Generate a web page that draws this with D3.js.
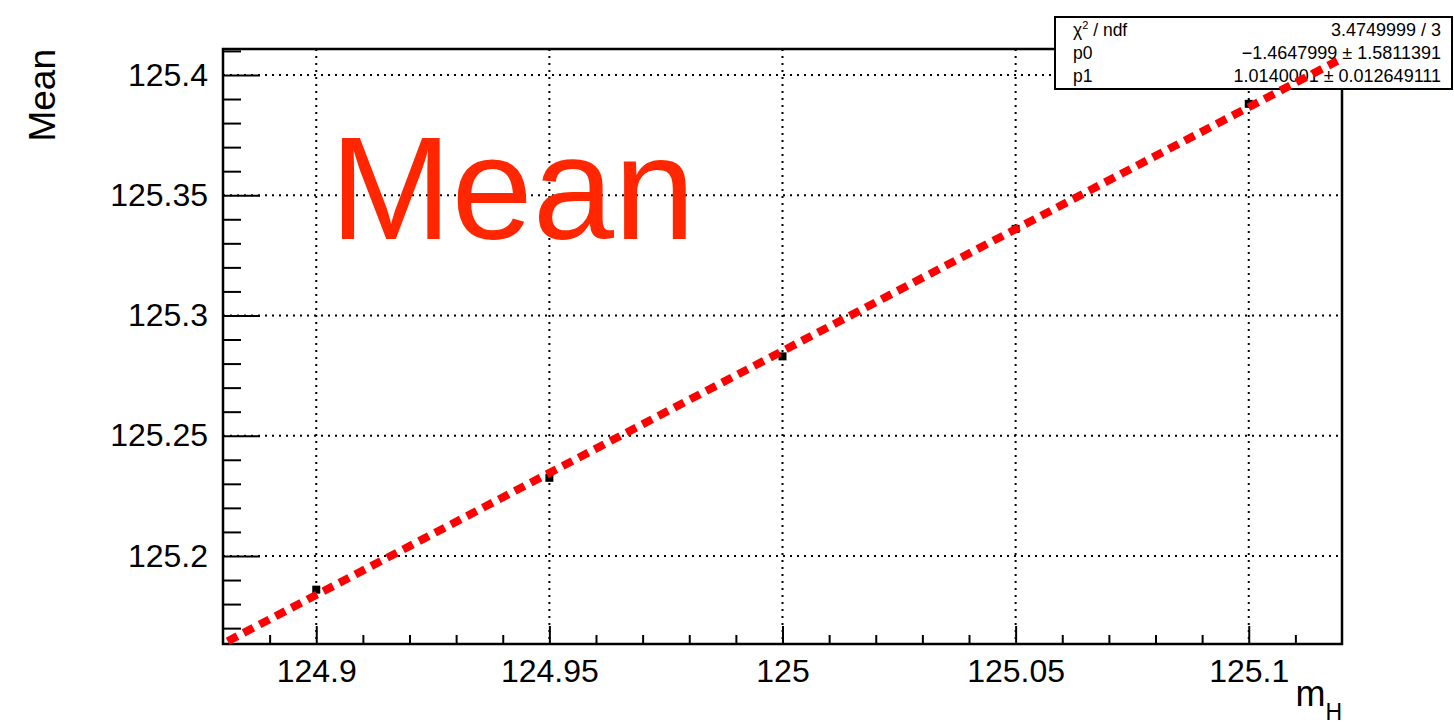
<!DOCTYPE html>
<html>
<head>
<meta charset="utf-8">
<script src="https://cdn.jsdelivr.net/npm/d3@7"></script>
<style>
  body { margin: 0; background: #fff; }
  svg { display: block; font-family: "Liberation Sans", Arial, Helvetica, sans-serif; }
  .domain { display: none; }
</style>
</head>
<body>
<div id="chart"></div>
<script>
// Data
const massPoints = [124.9, 124.95, 125.0, 125.05, 125.1]
const meanValues = [125.186, 125.2325, 125.283, 125.336, 125.388]

// fit result  y = p0 + p1 * x
const p0 = -1.4647999
const p1 = 1.0140001

const xTicks = [124.9, 124.95, 125.0, 125.05, 125.1]
const xTickLabels = ['124.9', '124.95', '125', '125.05', '125.1']
const yTicks = [125.2, 125.25, 125.3, 125.35, 125.4]
const yTickLabels = ['125.2', '125.25', '125.3', '125.35', '125.4']

const statsRows = [
    ['χ2 / ndf', '3.4749999 / 3'],
    ['p0', '\u22121.4647999 \u00b1 1.5811391'],
    ['p1', '1.0140001 \u00b1 0.012649111']
]

// Dimensions
let margin = { top: 49, right: 112, bottom: 80, left: 223 },
    W = 1454,
    H = 724,
    width = W - margin.left - margin.right,
    height = H - margin.top - margin.bottom

const svg = d3.select('#chart')
    .append('svg')
    .attr('width', W)
    .attr('height', H)

const g = svg.append('g')
    .attr('transform', 'translate(' + margin.left + ',' + margin.top + ')')

// Scales
let x = d3.scaleLinear().domain([124.88, 125.12]).range([0, width])
let y = d3.scaleLinear().domain([125.1634, 125.4108]).range([height, 0])

// Grid (dotted)
g.append('g').selectAll('line')
    .data(xTicks)
    .enter().append('line')
    .attr('x1', d => x(d)).attr('x2', d => x(d))
    .attr('y1', 0).attr('y2', height)
    .attr('stroke', '#000').attr('stroke-width', 2)
    .attr('stroke-dasharray', '2,5')

g.append('g').selectAll('line')
    .data(yTicks)
    .enter().append('line')
    .attr('x1', 0).attr('x2', width)
    .attr('y1', d => y(d)).attr('y2', d => y(d))
    .attr('stroke', '#000').attr('stroke-width', 2)
    .attr('stroke-dasharray', '2,5')

// minor ticks every 0.01
let xMinor = d3.range(124.89, 125.115, 0.01).filter(v => !xTicks.some(t => Math.abs(t - v) < 1e-6))
let yMinor = d3.range(125.17, 125.415, 0.01).filter(v => !yTicks.some(t => Math.abs(t - v) < 1e-6))

// X axis
let xAxis = g.append('g')
    .attr('transform', 'translate(0,' + height + ')')
    .call(d3.axisBottom(x).tickValues(xTicks).tickSize(-18).tickPadding(13)
        .tickFormat((d, i) => xTickLabels[i]))
g.append('g')
    .attr('transform', 'translate(0,' + height + ')')
    .call(d3.axisBottom(x).tickValues(xMinor).tickSize(-9).tickFormat(''))

// Y axis
let yAxis = g.append('g')
    .call(d3.axisLeft(y).tickValues(yTicks).tickSize(-37).tickPadding(15)
        .tickFormat((d, i) => yTickLabels[i]))
g.append('g')
    .call(d3.axisLeft(y).tickValues(yMinor).tickSize(-18).tickFormat(''))

g.selectAll('.tick line').attr('stroke', '#000').attr('stroke-width', 2)
g.selectAll('.tick text')
    .attr('fill', '#000')
    .style('font-size', '32px')
    .style('font-family', '"Liberation Sans", Arial, sans-serif')
xAxis.selectAll('.tick text').attr('dy', '0.78em')

// Frame
g.append('rect')
    .attr('width', width)
    .attr('height', height)
    .attr('fill', 'none')
    .attr('stroke', '#000')
    .attr('stroke-width', 2.5)

// Markers
g.append('g').selectAll('rect')
    .data(massPoints)
    .enter().append('rect')
    .attr('x', d => x(d) - 4)
    .attr('y', (d, i) => y(meanValues[i]) - 4)
    .attr('width', 8)
    .attr('height', 8)
    .attr('fill', '#000')

// Big label
g.append('text')
    .attr('x', 330 - margin.left)
    .attr('y', 239 - margin.top)
    .attr('fill', '#ff2600')
    .style('font-size', '146px')
    .text('Mean')

// Axis titles
svg.append('text')
    .attr('transform', 'translate(55,49) rotate(-90)')
    .attr('text-anchor', 'end')
    .style('font-size', '37px')
    .text('Mean')

let xt = svg.append('text')
    .attr('x', W - margin.right)
    .attr('y', 706)
    .attr('text-anchor', 'end')
    .style('font-size', '36px')
xt.append('tspan').text('m')
xt.append('tspan').attr('dy', 14).style('font-size', '23px').text('H')

// Stats box
const box = svg.append('g').attr('transform', 'translate(1055,17)')
box.append('rect')
    .attr('width', 397)
    .attr('height', 72)
    .attr('fill', '#fff')
    .attr('stroke', '#000')
    .attr('stroke-width', 2)

statsRows.forEach((row, i) => {
    let ty = 19 + i * 23
    let left = box.append('text')
        .attr('x', 18).attr('y', ty)
        .style('font-size', '17.5px')
    if (i === 0) {
        left.append('tspan').text('χ')
        left.append('tspan').attr('dy', -7).style('font-size', '11px').text('2')
        left.append('tspan').attr('dy', 7).text(' / ndf')
    } else {
        left.text(row[0])
    }
    box.append('text')
        .attr('x', 386).attr('y', ty)
        .attr('text-anchor', 'end')
        .style('font-size', '18px')
        .text(row[1])
})

// Fit line, drawn on top of everything (also over the stats box)
let fitX = x.domain()
svg.append('g')
    .attr('transform', 'translate(' + margin.left + ',' + margin.top + ')')
    .append('line')
    .attr('x1', x(fitX[0] + 0.001))
    .attr('y1', y(p0 + p1 * (fitX[0] + 0.001)))
    .attr('x2', x(fitX[1] - 0.001))
    .attr('y2', y(p0 + p1 * (fitX[1] - 0.001)))
    .attr('stroke', '#ff0000')
    .attr('stroke-width', 8)
    .attr('stroke-dasharray', '11,7')
</script>
</body>
</html>
